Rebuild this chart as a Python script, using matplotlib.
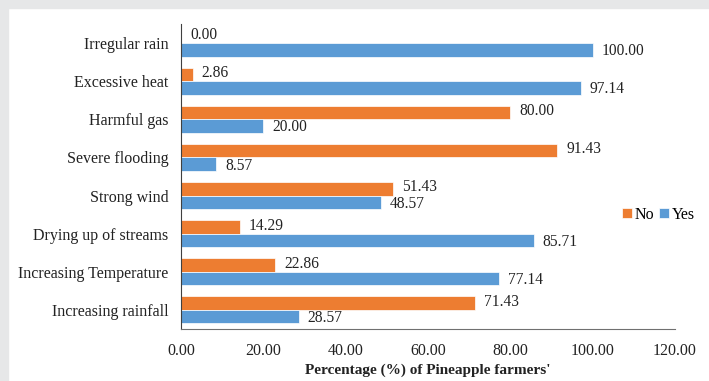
import matplotlib
matplotlib.use('Agg')
import matplotlib.pyplot as plt
import numpy as np
from matplotlib.patches import Rectangle

plt.rcParams['font.family'] = ['Liberation Serif', 'DejaVu Serif']

categories = ['Irregular rain', 'Excessive heat', 'Harmful gas', 'Severe flooding',
              'Strong wind', 'Drying up of streams', 'Increasing Temperature',
              'Increasing rainfall']
no_vals = [0.00, 2.86, 80.00, 91.43, 51.43, 14.29, 22.86, 71.43]
yes_vals = [100.00, 97.14, 20.00, 8.57, 48.57, 85.71, 77.14, 28.57]
xticks = [0, 20, 40, 60, 80, 100, 120]

c_no = '#ED7D31'
c_yes = '#5B9BD5'
fs = 11.5

fig = plt.figure(figsize=(7.09, 3.81), dpi=100)
ax = fig.add_axes([0.2553, 0.1365, 0.6967, 0.8005])

y = np.arange(len(categories))
h = 0.355
b_no = ax.barh(y - h / 2, no_vals, height=h, color=c_no, edgecolor='white', linewidth=0.5, label='No')
b_yes = ax.barh(y + h / 2, yes_vals, height=h, color=c_yes, edgecolor='white', linewidth=0.5, label='Yes')

# value labels, nudged apart a little so the pairs don't collide
for bars, vals, dy in [(b_no, no_vals, 1.0), (b_yes, yes_vals, -1.0)]:
    for r, v in zip(bars, vals):
        ax.annotate('%.2f' % v, (v, r.get_y() + r.get_height() / 2),
                    xytext=(6.5, dy), textcoords='offset points',
                    va='center', ha='left', fontsize=11.2, color='#222222')

ax.set_ylim(len(categories) - 0.5, -0.5)
ax.set_xlim(0, 120)
ax.set_yticks(y)
ax.set_yticklabels(categories, fontsize=fs, color='#222222')
ax.set_xticks(xticks)
ax.set_xticklabels(['%.2f' % t for t in xticks], fontsize=fs, color='#222222')
ax.tick_params(axis='both', length=0)
ax.tick_params(axis='x', pad=10)
ax.tick_params(axis='y', pad=9)
ax.set_xlabel("Percentage (%) of Pineapple farmers'", fontsize=11, fontweight='bold',
              labelpad=3, color='#222222')

for s in ['top', 'right']:
    ax.spines[s].set_visible(False)
ax.spines['left'].set_color('#404040')
ax.spines['bottom'].set_color('#707070')

ax.legend(loc='center left', bbox_to_anchor=(0.88, 0.374), ncol=2, frameon=False,
          fontsize=fs, handlelength=0.6, handleheight=0.6, handletextpad=0.2,
          columnspacing=0.3, borderaxespad=0)

# grey frame on the top and left edges
fig.add_artist(Rectangle((0, 0), 8 / 709, 1, transform=fig.transFigure,
                         color='#e6e7e8', zorder=-1))
fig.add_artist(Rectangle((0, 1 - 8 / 381), 1, 8 / 381, transform=fig.transFigure,
                         color='#e6e7e8', zorder=-1))

fig.savefig('out.png', dpi=100)
